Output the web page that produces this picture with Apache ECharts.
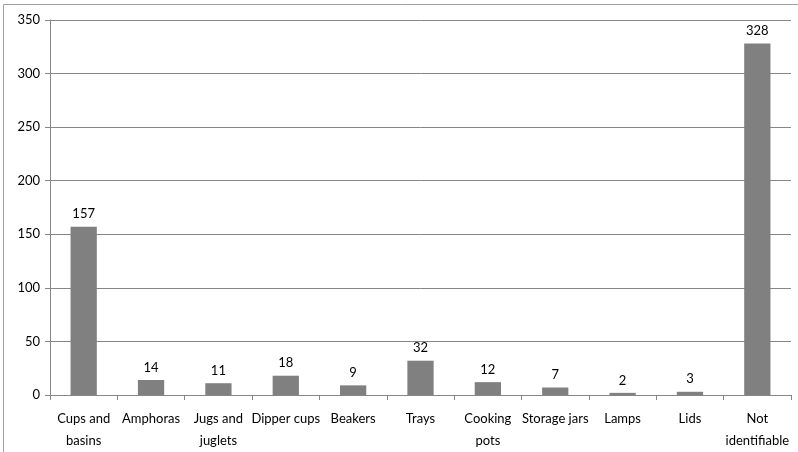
<!DOCTYPE html>
<html><head><meta charset="utf-8">
<script src="https://cdn.jsdelivr.net/npm/echarts@6/dist/echarts.min.js"></script>
<style>html,body{margin:0;padding:0;background:#fff}#c{width:798px;height:452px}</style>
</head><body><div id="c"></div>
<script>
var categories = ['Cups and\nbasins','Amphoras','Jugs and\njuglets','Dipper cups','Beakers','Trays','Cooking\npots','Storage jars','Lamps','Lids','Not\nidentifiable'];
var values = [157,14,11,18,9,32,12,7,2,3,328];
var chart = echarts.init(document.getElementById('c'), null, {renderer:'canvas'});
var font = 'Lato, Open Sans, sans-serif';
chart.setOption({
  animation:false,
  graphic:[{type:'rect',shape:{x:3.5,y:4.5,width:900,height:600},style:{fill:'none',stroke:'#a0a0a0',lineWidth:1}}],
  grid:{left:50,right:7,top:20,bottom:56,containLabel:false},
  xAxis:{type:'category',data:categories,
    axisLine:{lineStyle:{color:'#868686',width:1}},
    axisTick:{show:true,alignWithLabel:false,length:5,lineStyle:{color:'#868686'}},
    axisLabel:{color:'#000',fontFamily:font,fontSize:13,margin:13,lineHeight:22,interval:0}},
  yAxis:{type:'value',min:0,max:350,interval:50,
    axisLine:{show:true,lineStyle:{color:'#868686'}},
    axisTick:{show:true,length:5,lineStyle:{color:'#868686'}},
    axisLabel:{color:'#000',fontFamily:font,fontSize:13,margin:10},
    splitLine:{lineStyle:{color:'#868686',width:1}}},
  series:[{type:'bar',data:values,barWidth:'39%',itemStyle:{color:'#808080'},
    label:{show:true,position:'top',color:'#000',fontFamily:font,fontSize:13,distance:6}}]
});
</script></body></html>
